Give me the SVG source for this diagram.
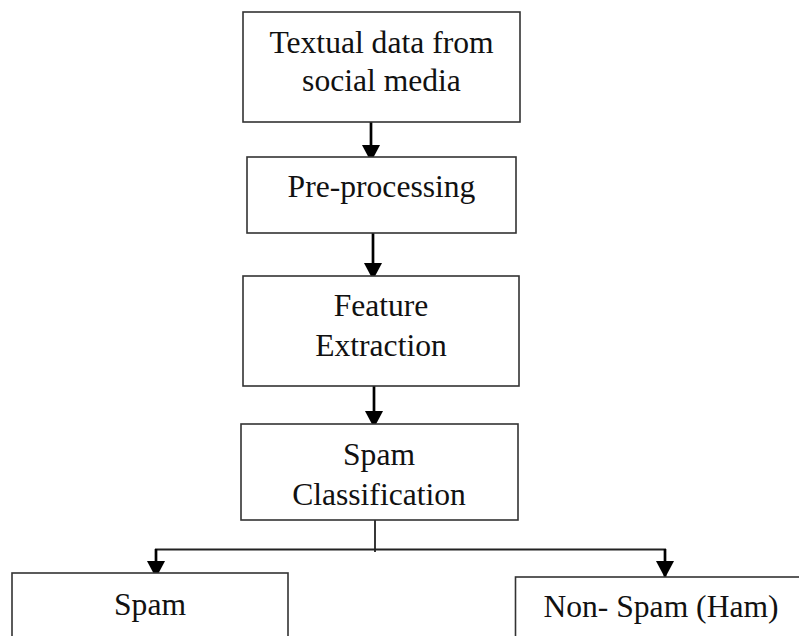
<svg xmlns="http://www.w3.org/2000/svg" width="799" height="636" viewBox="0 0 799 636">
<defs>
<marker id="ah" markerUnits="userSpaceOnUse" markerWidth="18" markerHeight="18" viewBox="0 0 18 18" refX="17" refY="9" orient="auto">
<path d="M0,0 L17,9 L0,18 Z" fill="#000"/>
</marker>
</defs>
<style>
.box{fill:#fff;stroke:#333;stroke-width:1.6}
.t{font-family:"Liberation Serif","Times New Roman",serif;font-size:31.6px;fill:#111;text-anchor:middle}
.arr{stroke:#000;stroke-width:2.7;fill:none}
.ln{stroke:#222;stroke-width:1.8;fill:none}
</style>
<rect width="799" height="636" fill="#fff"/>
<g id="connectors">
<line class="arr" x1="371" y1="122" x2="371" y2="162" marker-end="url(#ah)"/>
<line class="arr" x1="373" y1="233" x2="373" y2="280" marker-end="url(#ah)"/>
<line class="arr" x1="374" y1="386" x2="374" y2="428" marker-end="url(#ah)"/>
<line class="ln" x1="375" y1="520" x2="375" y2="552"/>
<line class="ln" x1="155" y1="549.5" x2="666" y2="549.5"/>
<line class="arr" x1="156" y1="549" x2="156" y2="578" marker-end="url(#ah)"/>
<line class="arr" x1="665" y1="549" x2="665" y2="578" marker-end="url(#ah)"/>
</g>
<g id="n1">
<rect class="box" x="243" y="12" width="277" height="110"/>
<text class="t" x="381.5" y="53">Textual data from</text>
<text class="t" x="381.5" y="91">social media</text>
</g>
<g id="n2">
<rect class="box" x="247" y="157" width="269" height="76"/>
<text class="t" x="381.5" y="197">Pre-processing</text>
</g>
<g id="n3">
<rect class="box" x="243" y="276" width="276" height="110"/>
<text class="t" x="381" y="316">Feature</text>
<text class="t" x="381" y="356">Extraction</text>
</g>
<g id="n4">
<rect class="box" x="241" y="424" width="277" height="96"/>
<text class="t" x="379" y="465">Spam</text>
<text class="t" x="379" y="505">Classification</text>
</g>
<g id="n5">
<rect class="box" x="12" y="573" width="276" height="80"/>
<text class="t" x="150" y="615">Spam</text>
</g>
<g id="n6">
<rect class="box" x="515.5" y="577" width="300" height="80"/>
<text class="t" x="661" y="617">Non- Spam (Ham)</text>
</g>
</svg>
